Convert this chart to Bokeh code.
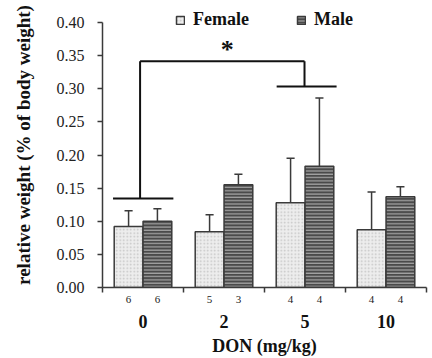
from bokeh.plotting import figure
from bokeh.models import (ColumnDataSource, FixedTicker, NumeralTickFormatter,
                          Legend, LegendItem, Label, Range1d, LinearAxis)
from bokeh.embed import file_html
from bokeh.resources import INLINE

# ---- data ----
doses = ["0", "2", "5", "10"]
female_mean = [0.092, 0.084, 0.128, 0.087]
female_sd = [0.024, 0.026, 0.067, 0.057]
male_mean = [0.100, 0.155, 0.183, 0.137]
male_sd = [0.019, 0.016, 0.103, 0.015]
female_n = [6, 5, 4, 4]
male_n = [6, 3, 4, 4]
y_ticks = [0.0, 0.05, 0.10, 0.15, 0.20, 0.25, 0.30, 0.35, 0.40]

# ---- layout helpers ----
centers = [i + 0.5 for i in range(len(doses))]
off = 0.178
bw = 0.355
fx = [c - off for c in centers]
mx = [c + off for c in centers]

fsrc = ColumnDataSource(dict(x=fx, top=female_mean,
                             up=[m + s for m, s in zip(female_mean, female_sd)]))
msrc = ColumnDataSource(dict(x=mx, top=male_mean,
                             up=[m + s for m, s in zip(male_mean, male_sd)]))

p = figure(width=426, height=358, output_backend="svg", toolbar_location=None,
           x_range=Range1d(0, 4), y_range=Range1d(0, 0.4302),
           x_axis_location=None, margin=(0, 0, 0, 6),
           min_border_left=96, min_border_right=6, min_border_top=2,
           min_border_bottom=71, background_fill_color="white")
p.outline_line_color = None
p.xgrid.visible = False
p.ygrid.visible = False

edge = "#3a3a3a"
fr = p.vbar(x="x", top="top", width=bw, source=fsrc, fill_color="#ededed",
            line_color=edge, line_width=1.5, hatch_pattern="dot",
            hatch_color="#c4c4c4", hatch_scale=3.5, hatch_weight=1)
mr = p.vbar(x="x", top="top", width=bw, source=msrc, fill_color="#4a4a4a",
            line_color=edge, line_width=1.5, hatch_pattern="horizontal_line",
            hatch_color="#a8a8a8", hatch_scale=3.3, hatch_weight=1.2)

# error bars (upper only)
cap = 0.05
for src in (fsrc, msrc):
    p.segment(x0="x", y0="top", x1="x", y1="up", source=src,
              line_color=edge, line_width=1.5)
    d = src.data
    p.segment(x0=[x - cap for x in d["x"]], y0=d["up"],
              x1=[x + cap for x in d["x"]], y1=d["up"],
              line_color=edge, line_width=1.5)

# significance bracket
blk = "#111111"
p.segment(x0=[0.13, 2.15, 0.464, 0.464, 2.494],
          y0=[0.1345, 0.3033, 0.1345, 0.3415, 0.3415],
          x1=[0.875, 2.89, 0.464, 2.494, 2.494],
          y1=[0.1345, 0.3033, 0.3415, 0.3415, 0.3033],
          line_color=blk, line_width=2)
p.add_layout(Label(x=1.54, y=0.359, text="*", text_font="Liberation Serif",
                   text_font_style="bold", text_font_size="26px",
                   text_align="center", text_baseline="middle",
                   text_color=blk))

# ---- y axis ----
p.yaxis.bounds = (0, 0.40)
p.yaxis.ticker = FixedTicker(ticks=y_ticks)
p.yaxis.formatter = NumeralTickFormatter(format="0.00")
p.yaxis.major_label_text_font = "Liberation Serif"
p.yaxis.major_label_text_font_size = "16px"
p.yaxis.major_label_text_color = "#222222"
p.yaxis.major_tick_out = 5
p.yaxis.major_tick_in = 0
p.yaxis.minor_tick_out = 0
p.yaxis.major_label_standoff = 13
p.yaxis.axis_line_color = edge
p.yaxis.axis_line_width = 1.5
p.yaxis.major_tick_line_color = edge
p.yaxis.major_tick_line_width = 1.5
p.yaxis.axis_label = "relative weight (% of body weight)"
p.yaxis.axis_label_text_font = "Liberation Serif"
p.yaxis.axis_label_text_font_style = "bold"
p.yaxis.axis_label_text_font_size = "19px"
p.yaxis.axis_label_text_color = "#111111"
p.yaxis.axis_label_standoff = 20

# ---- x axes: group sizes (n) next to the frame, doses below ----
n_labels = {}
for x, n in zip(fx, female_n):
    n_labels[x] = str(n)
for x, n in zip(mx, male_n):
    n_labels[x] = str(n)
ax_n = LinearAxis(ticker=FixedTicker(ticks=fx + mx, minor_ticks=[0, 1, 2, 3, 4]),
                  major_label_overrides=n_labels,
                  major_label_text_font="Liberation Serif",
                  major_label_text_font_size="11px",
                  major_label_text_color="#222222",
                  major_tick_out=0, major_tick_in=0,
                  minor_tick_out=5, minor_tick_in=0,
                  minor_tick_line_color=edge, minor_tick_line_width=1.5,
                  major_label_standoff=3,
                  axis_line_color=edge, axis_line_width=1.5)
p.add_layout(ax_n, "below")

ax_d = LinearAxis(ticker=FixedTicker(ticks=centers, minor_ticks=[]),
                  major_label_overrides={c: d for c, d in zip(centers, doses)},
                  major_label_text_font="Liberation Serif",
                  major_label_text_font_style="bold",
                  major_label_text_font_size="18px",
                  major_label_text_color="#111111",
                  major_tick_out=0, major_tick_in=0,
                  minor_tick_out=0, minor_tick_in=0,
                  major_label_standoff=9,
                  axis_line_color=None,
                  axis_label="DON (mg/kg)",
                  axis_label_text_font="Liberation Serif",
                  axis_label_text_font_style="bold",
                  axis_label_text_font_size="18px",
                  axis_label_text_color="#111111",
                  axis_label_standoff=5)
p.add_layout(ax_d, "below")

legend = Legend(items=[LegendItem(label="Female", renderers=[fr]),
                       LegendItem(label="Male", renderers=[mr])],
                orientation="horizontal", location=(73, 257),
                glyph_width=10, glyph_height=10, label_standoff=8, spacing=47,
                padding=0, margin=0, border_line_color=None,
                background_fill_alpha=0,
                label_text_font="Liberation Serif",
                label_text_font_style="bold", label_text_font_size="18px",
                label_text_color="#111111")
p.add_layout(legend)

open("out.html", "w").write(file_html(p, INLINE))
